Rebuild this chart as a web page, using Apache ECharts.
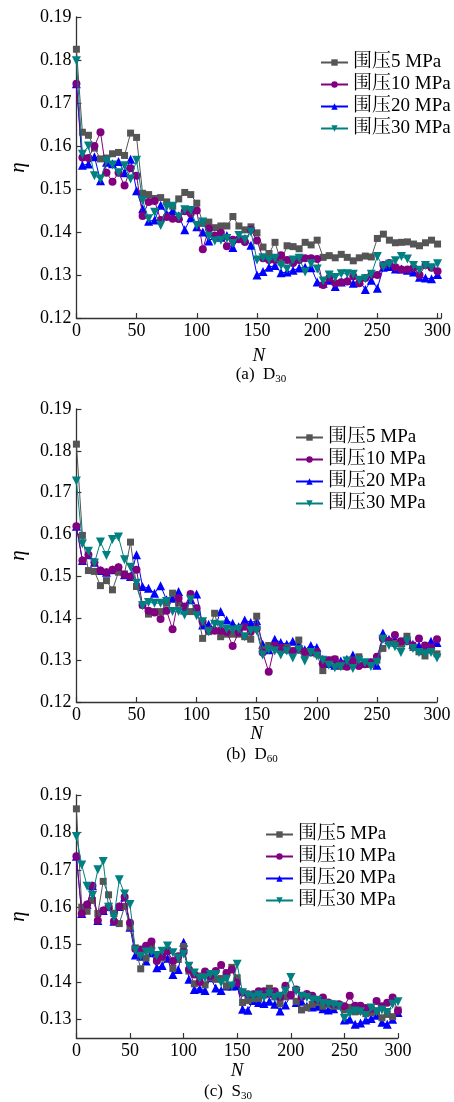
<!DOCTYPE html>
<html>
<head>
<meta charset="utf-8">
<script src="https://cdn.jsdelivr.net/npm/echarts@6/dist/echarts.min.js"></script>
<style>
html,body{margin:0;padding:0;background:#fff;}
#chart{width:454px;height:1102px;}
</style>
</head>
<body>
<div id="chart"></div>
<script>
// cycle numbers (x)
const N = [0,5,10,15,20,25,30,35,40,45,50,55,60,65,70,75,80,85,90,95,100,
  105,110,115,120,125,130,135,140,145,150,155,160,165,170,175,180,185,190,195,200,
  205,210,215,220,225,230,235,240,245,250,255,260,265,270,275,280,285,290,295,300];

const seriesNames = ['围压5 MPa','围压10 MPa','围压20 MPa','围压30 MPa'];
const xTicks = [0,50,100,150,200,250,300];
const yTicksC = [0.13,0.14,0.15,0.16,0.17,0.18,0.19];
const captions = ['(a)  D','(b)  D','(c)  S'];
const captionSubs = ['30','60','30'];

// (a) D30
const a5 = [0.1825,0.1632,0.1625,0.1595,0.1570,0.1572,0.1582,0.1585,0.1578,0.1630,0.1620,
  0.1490,0.1487,0.1478,0.1480,0.1470,0.1460,0.1477,0.1492,0.1487,0.1467,
  0.1420,0.1423,0.1410,0.1414,0.1414,0.1436,0.1414,0.1405,0.1412,0.1398,
  0.1365,0.1350,0.1376,0.1330,0.1368,0.1366,0.1361,0.1376,0.1370,0.1381,
  0.1341,0.1345,0.1340,0.1348,0.1341,0.1333,0.1340,0.1344,0.1342,0.1385,
  0.1395,0.1381,0.1375,0.1376,0.1377,0.1372,0.1368,0.1375,0.1381,0.1372];
const a10 = [0.1745,0.1573,0.1572,0.1600,0.1632,0.1538,0.1517,0.1538,0.1508,0.1548,0.1531,
  0.1437,0.1470,0.1472,0.1428,0.1435,0.1431,0.1430,0.1448,0.1443,0.1450,
  0.1360,0.1408,0.1391,0.1398,0.1367,0.1382,0.1383,0.1377,0.1405,0.1380,
  0.1339,0.1335,0.1335,0.1346,0.1335,0.1328,0.1335,0.1339,0.1339,0.1337,
  0.1277,0.1293,0.1281,0.1283,0.1285,0.1297,0.1281,0.1293,0.1300,0.1300,
  0.1323,0.1328,0.1318,0.1313,0.1313,0.1317,0.1300,0.1323,0.1317,0.1309];
const a20 = [0.1745,0.1555,0.1558,0.1575,0.1519,0.1562,0.1559,0.1564,0.1538,0.1569,0.1496,
  0.1454,0.1425,0.1428,0.1462,0.1442,0.1450,0.1438,0.1405,0.1433,0.1412,
  0.1400,0.1379,0.1392,0.1388,0.1392,0.1364,0.1385,0.1385,0.1369,0.1300,
  0.1308,0.1318,0.1322,0.1305,0.1307,0.1311,0.1316,0.1318,0.1317,0.1284,
  0.1281,0.1288,0.1273,0.1284,0.1288,0.1281,0.1288,0.1266,0.1288,0.1269,
  0.1318,0.1320,0.1314,0.1314,0.1311,0.1307,0.1295,0.1293,0.1291,0.1301];
const a30 = [0.1798,0.1581,0.1600,0.1531,0.1523,0.1565,0.1556,0.1538,0.1554,0.1523,0.1567,
  0.1473,0.1431,0.1446,0.1415,0.1458,0.1460,0.1435,0.1452,0.1450,0.1415,
  0.1423,0.1390,0.1379,0.1381,0.1385,0.1373,0.1392,0.1382,0.1400,0.1335,
  0.1340,0.1335,0.1339,0.1322,0.1314,0.1335,0.1339,0.1307,0.1326,0.1314,
  0.1286,0.1300,0.1294,0.1303,0.1303,0.1302,0.1288,0.1291,0.1302,0.1343,
  0.1319,0.1325,0.1333,0.1343,0.1337,0.1322,0.1311,0.1322,0.1317,0.1326];

// (b) D60
const b5 = [0.1816,0.1598,0.1514,0.1512,0.1478,0.1490,0.1468,0.1510,0.1506,0.1582,0.1476,
  0.1432,0.1410,0.1416,0.1416,0.1436,0.1460,0.1436,0.1428,0.1416,0.1424,
  0.1352,0.1368,0.1412,0.1356,0.1362,0.1362,0.1362,0.1356,0.1350,0.1405,
  0.1325,0.1335,0.1330,0.1325,0.1330,0.1320,0.1348,0.1315,0.1320,0.1315,
  0.1275,0.1300,0.1302,0.1285,0.1285,0.1300,0.1308,0.1292,0.1290,0.1300,
  0.1328,0.1345,0.1340,0.1338,0.1357,0.1330,0.1320,0.1310,0.1325,0.1315];
const b10 = [0.1620,0.1538,0.1552,0.1534,0.1514,0.1510,0.1516,0.1522,0.1504,0.1500,0.1516,
  0.1432,0.1418,0.1414,0.1398,0.1418,0.1374,0.1448,0.1428,0.1458,0.1424,
  0.1392,0.1372,0.1370,0.1370,0.1368,0.1334,0.1366,0.1380,0.1368,0.1375,
  0.1318,0.1272,0.1335,0.1330,0.1325,0.1322,0.1325,0.1320,0.1318,0.1320,
  0.1290,0.1300,0.1302,0.1290,0.1284,0.1298,0.1286,0.1290,0.1295,0.1308,
  0.1352,0.1345,0.1360,0.1345,0.1345,0.1335,0.1352,0.1335,0.1330,0.1350];
const b20 = [0.1620,0.1538,0.1552,0.1534,0.1514,0.1510,0.1516,0.1522,0.1504,0.1500,0.1552,
  0.1476,0.1472,0.1460,0.1478,0.1444,0.1448,0.1464,0.1420,0.1444,0.1458,
  0.1384,0.1386,0.1376,0.1416,0.1396,0.1388,0.1380,0.1396,0.1390,0.1394,
  0.1338,0.1325,0.1350,0.1342,0.1338,0.1345,0.1340,0.1325,0.1335,0.1330,
  0.1302,0.1292,0.1288,0.1298,0.1302,0.1312,0.1292,0.1292,0.1295,0.1288,
  0.1365,0.1350,0.1350,0.1342,0.1355,0.1338,0.1335,0.1332,0.1345,0.1342];
const b30 = [0.1728,0.1578,0.1560,0.1532,0.1582,0.1550,0.1588,0.1594,0.1540,0.1522,0.1484,
  0.1430,0.1438,0.1436,0.1436,0.1440,0.1416,0.1416,0.1408,0.1444,0.1406,
  0.1392,0.1368,0.1386,0.1384,0.1374,0.1372,0.1374,0.1356,0.1370,0.1370,
  0.1312,0.1325,0.1322,0.1312,0.1322,0.1305,0.1325,0.1298,0.1318,0.1310,
  0.1300,0.1288,0.1282,0.1284,0.1298,0.1280,0.1300,0.1294,0.1285,0.1295,
  0.1350,0.1335,0.1332,0.1318,0.1345,0.1328,0.1318,0.1315,0.1318,0.1305];

// (c) S30
const c5 = [0.1863,0.1600,0.1589,0.1618,0.1583,0.1669,0.1633,0.1583,0.1556,0.1602,0.1547,
  0.1491,0.1435,0.1464,0.1496,0.1460,0.1464,0.1485,0.1436,0.1460,0.1495,
  0.1429,0.1395,0.1416,0.1392,0.1411,0.1407,0.1409,0.1389,0.1439,0.1411,
  0.1345,0.1350,0.1355,0.1356,0.1365,0.1383,0.1360,0.1342,0.1360,0.1365,
  0.1348,0.1325,0.1331,0.1340,0.1345,0.1335,0.1340,0.1335,0.1338,0.1325,
  0.1332,0.1320,0.1322,0.1315,0.1318,0.1322,0.1304,0.1313,0.1307,0.1325];
const c10 = [0.1736,0.1583,0.1607,0.1657,0.1564,0.1591,0.1602,0.1562,0.1602,0.1627,0.1558,
  0.1488,0.1487,0.1497,0.1508,0.1456,0.1469,0.1482,0.1456,0.1469,0.1480,
  0.1433,0.1420,0.1400,0.1428,0.1416,0.1429,0.1445,0.1424,0.1433,0.1398,
  0.1372,0.1367,0.1367,0.1375,0.1375,0.1368,0.1375,0.1360,0.1390,0.1365,
  0.1380,0.1360,0.1368,0.1363,0.1352,0.1358,0.1345,0.1340,0.1340,0.1335,
  0.1363,0.1336,0.1336,0.1330,0.1328,0.1349,0.1335,0.1344,0.1358,0.1322];
const c20 = [0.1736,0.1583,0.1607,0.1657,0.1564,0.1591,0.1602,0.1562,0.1602,0.1627,0.1546,
  0.1472,0.1469,0.1456,0.1478,0.1438,0.1444,0.1463,0.1420,0.1433,0.1506,
  0.1407,0.1380,0.1382,0.1377,0.1411,0.1384,0.1377,0.1389,0.1389,0.1390,
  0.1327,0.1324,0.1350,0.1345,0.1342,0.1348,0.1340,0.1322,0.1338,0.1365,
  0.1345,0.1348,0.1335,0.1333,0.1335,0.1328,0.1325,0.1328,0.1338,0.1298,
  0.1300,0.1287,0.1290,0.1298,0.1302,0.1311,0.1292,0.1287,0.1300,0.1318];
const c30 = [0.1789,0.1713,0.1656,0.1631,0.1700,0.1722,0.1600,0.1573,0.1673,0.1635,0.1607,
  0.1485,0.1469,0.1480,0.1480,0.1471,0.1482,0.1496,0.1478,0.1464,0.1475,
  0.1442,0.1424,0.1409,0.1411,0.1420,0.1420,0.1398,0.1407,0.1389,0.1447,
  0.1371,0.1364,0.1360,0.1365,0.1358,0.1368,0.1358,0.1362,0.1375,0.1412,
  0.1375,0.1362,0.1358,0.1352,0.1350,0.1342,0.1340,0.1338,0.1335,0.1302,
  0.1315,0.1322,0.1320,0.1310,0.1330,0.1320,0.1325,0.1318,0.1340,0.1347];

const panels = [[a5,a10,a20,a30],[b5,b10,b20,b30],[c5,c10,c20,c30]];

const SERIF = "'Liberation Serif','Noto Serif CJK SC','Noto Sans CJK SC',serif";
const colors = ['#555555','#800080','#0000ff','#008080'];
const symbols = ['rect','circle','triangle','triangle'];
const symSizes = [7,8,9,9];
const symRot = [0,0,0,180];
const drawOrder = [0,2,1,3]; // blue drawn under purple
const zs = [2,3,1,4];

const grids = [
  {left:71, top:17, width:382, height:301},
  {left:72, top:409, width:365, height:293},
  {left:70, top:795, width:328, height:243}
];
const xMax = [303,300,300];
const yMin = [0.12,0.12,0.125];
const nameGapX = [28,22,23];

const axisColor = '#333';
const xAxes = grids.map((g,i)=>({
  type:'value', gridIndex:i, min:0, max:xMax[i], interval:50,
  name:'N', nameLocation:'middle', nameGap:nameGapX[i],
  nameTextStyle:{fontFamily:SERIF, fontStyle:'italic', fontSize:19, color:'#000'},
  axisLine:{show:true, onZero:false, lineStyle:{color:axisColor, width:1.3}},
  axisTick:{show:true, inside:true, length:5, lineStyle:{color:axisColor, width:1.2}},
  axisLabel:{fontFamily:SERIF, fontSize:18, color:'#000', margin:4,
    customValues:xTicks, showMaxLabel:true},
  splitLine:{show:false}
}));
const yAxes = grids.map((g,i)=>{
  const ax = {
    type:'value', gridIndex:i, min:yMin[i], max:0.19,
    name:'η', nameLocation:'middle', nameGap:42, nameRotate:90,
    nameTextStyle:{fontFamily:SERIF, fontStyle:'italic', fontSize:21, color:'#000'},
    axisLine:{show:true, lineStyle:{color:axisColor, width:1.3}},
    axisTick:{show:true, inside:true, length:5, lineStyle:{color:axisColor, width:1.2}},
    axisLabel:{fontFamily:SERIF, fontSize:18, color:'#000', margin:5,
      formatter:(v)=>v.toFixed(2)},
    splitLine:{show:false}
  };
  if (i===2) {
    ax.axisLabel.customValues = yTicksC;
    ax.axisTick.customValues = yTicksC;
  } else {
    ax.interval = 0.01;
  }
  return ax;
});

const series = [];
panels.forEach((vals,p)=>{
  drawOrder.forEach(k=>{
    series.push({
      type:'line', name:seriesNames[k], xAxisIndex:p, yAxisIndex:p,
      data:N.map((n,i)=>[n, vals[k][i]]),
      symbol:symbols[k], symbolSize:symSizes[k], symbolRotate:symRot[k],
      showSymbol:true, showAllSymbol:true, z:zs[k],
      lineStyle:{color:colors[k], width:1},
      itemStyle:{color:colors[k]},
      emphasis:{disabled:true}, animation:false
    });
  });
});

const legendPos = [{left:315, top:48},{left:290, top:423},{left:260, top:820}];
const legends = legendPos.map(pos=>({
  orient:'vertical', left:pos.left, top:pos.top,
  data:seriesNames, itemWidth:27, itemHeight:8, itemGap:3,
  textStyle:{fontFamily:SERIF, fontSize:19, color:'#000', lineHeight:19},
  selectedMode:false
}));

const capPos = [[261,375],[252,755],[228,1092]];
const graphics = capPos.map((c,i)=>({
  type:'text', x:c[0], y:c[1],
  style:{
    text:'{m|'+captions[i]+'}{s|'+captionSubs[i]+'}',
    align:'center', verticalAlign:'middle',
    rich:{
      m:{fontFamily:SERIF, fontSize:17, fill:'#000', lineHeight:20, verticalAlign:'middle'},
      s:{fontFamily:SERIF, fontSize:11, fill:'#000', lineHeight:20, verticalAlign:'bottom', padding:[6,0,0,0]}
    }
  }
}));

const chart = echarts.init(document.getElementById('chart'), null, {renderer:'canvas'});
chart.setOption({
  animation:false,
  backgroundColor:'#fff',
  grid:grids,
  xAxis:xAxes,
  yAxis:yAxes,
  legend:legends,
  graphic:graphics,
  series:series
});
</script>
</body>
</html>
